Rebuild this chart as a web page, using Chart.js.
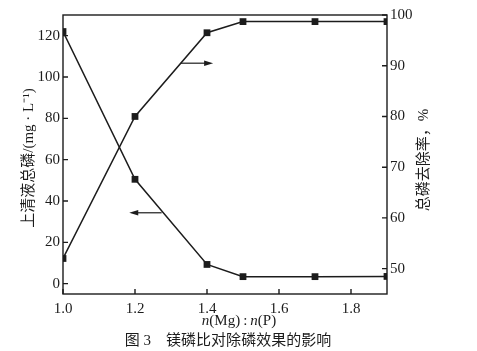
<!DOCTYPE html>
<html>
<head>
<meta charset="utf-8">
<script src="https://cdn.jsdelivr.net/npm/chart.js@4.4.1/dist/chart.umd.min.js"></script>
<style>
html,body{margin:0;padding:0;background:#fff;}
#wrap{width:477px;height:351px;position:relative;}
</style>
</head>
<body>
<div id="wrap"><canvas id="c" width="477" height="351"></canvas></div>
<script>
// ---- data ----
const ratios = [1.0, 1.2, 1.4, 1.5, 1.7, 1.9];
const supernatantTP = [122, 50.5, 9.3, 3.4, 3.4, 3.5];      // mg/L, left axis
const removalRate = [52.0, 80.0, 96.5, 98.7, 98.7, 98.7];    // %, right axis
const xTicks = [1.0, 1.2, 1.4, 1.6, 1.8];
const leftTicks = [0, 20, 40, 60, 80, 100, 120];
const rightTicks = [50, 60, 70, 80, 90, 100];
const xTitleParts = [["n", true], ["(Mg)\u2009:\u2009", false], ["n", true], ["(P)", false]];
const leftTitle = "上清液总磷/(mg · L⁻¹)";
const rightTitle = "总磷去除率，%";
const caption = "图 3　镁磷比对除磷效果的影响";
// arrows in data units: [xFrom, xTo, yValue, axisId]
const arrowRight = [1.327, 1.417, 90.5, 'y1'];
const arrowLeft = [1.274, 1.184, 34.3, 'y'];

const INK = '#1c1c1c';
const SERIF = '"Liberation Serif", "Times New Roman", serif';
const CJK = '"Liberation Serif", "Noto Sans CJK SC", serif';

const decor = {
  id: 'decor',
  afterDraw(chart) {
    const ctx = chart.ctx, a = chart.chartArea;
    const sx = chart.scales.x, sy = chart.scales.y, sy1 = chart.scales.y1;
    ctx.save();
    ctx.strokeStyle = INK; ctx.fillStyle = INK; ctx.lineWidth = 1.4;
    ctx.strokeRect(a.left, a.top, a.right - a.left, a.bottom - a.top);
    const tl = 5;
    ctx.beginPath();
    xTicks.forEach(v => { const p = sx.getPixelForValue(v); ctx.moveTo(p, a.bottom); ctx.lineTo(p, a.bottom - tl); });
    leftTicks.forEach(v => { const p = sy.getPixelForValue(v); ctx.moveTo(a.left, p); ctx.lineTo(a.left + tl, p); });
    rightTicks.forEach(v => { const p = sy1.getPixelForValue(v); ctx.moveTo(a.right, p); ctx.lineTo(a.right - tl, p); });
    ctx.stroke();
    // arrows
    [arrowRight, arrowLeft].forEach(ar => {
      const x0 = sx.getPixelForValue(ar[0]), x1 = sx.getPixelForValue(ar[1]);
      const yy = chart.scales[ar[3]].getPixelForValue(ar[2]);
      const dir = Math.sign(x1 - x0);
      ctx.lineWidth = 1.2;
      ctx.beginPath(); ctx.moveTo(x0, yy); ctx.lineTo(x1 - dir * 6, yy); ctx.stroke();
      ctx.beginPath(); ctx.moveTo(x1, yy); ctx.lineTo(x1 - dir * 9, yy - 2.8); ctx.lineTo(x1 - dir * 9, yy + 2.8); ctx.closePath(); ctx.fill();
    });
    // x title
    ctx.textBaseline = 'middle';
    let total = 0;
    xTitleParts.forEach(p => { ctx.font = (p[1] ? 'italic ' : '') + '15px ' + SERIF; total += ctx.measureText(p[0]).width; });
    let xp = 239 - total / 2;
    ctx.textAlign = 'left';
    xTitleParts.forEach(p => { ctx.font = (p[1] ? 'italic ' : '') + '15px ' + SERIF; ctx.fillText(p[0], xp, 321); xp += ctx.measureText(p[0]).width; });
    // caption
    ctx.font = '15px ' + CJK; ctx.textAlign = 'center';
    ctx.fillText(caption, 228, 341);
    // left title
    ctx.save(); ctx.translate(29, 158); ctx.rotate(-Math.PI / 2);
    ctx.font = '15px ' + CJK; ctx.fillText(leftTitle, 0, 0); ctx.restore();
    // right title
    ctx.save(); ctx.translate(424, 160); ctx.rotate(-Math.PI / 2);
    ctx.font = '15px ' + CJK; ctx.fillText(rightTitle, 0, 0); ctx.restore();
    ctx.restore();
  }
};

const mk = (ys) => ratios.map((x, i) => ({ x: x, y: ys[i] }));
const tickFont = { family: SERIF, size: 15 };

new Chart(document.getElementById('c'), {
  type: 'line',
  data: {
    datasets: [
      { label: '上清液总磷', data: mk(supernatantTP), yAxisID: 'y', borderColor: INK, backgroundColor: INK,
        borderWidth: 1.5, pointStyle: 'rect', pointRadius: 4.8, pointBorderWidth: 0, tension: 0 },
      { label: '总磷去除率', data: mk(removalRate), yAxisID: 'y1', borderColor: INK, backgroundColor: INK,
        borderWidth: 1.5, pointStyle: 'rect', pointRadius: 4.8, pointBorderWidth: 0, tension: 0 }
    ]
  },
  options: {
    responsive: false, animation: false, devicePixelRatio: 1,
    layout: { padding: { top: 15, left: 0, right: 0, bottom: 0 } },
    plugins: { legend: { display: false }, tooltip: { enabled: false } },
    scales: {
      x: { type: 'linear', min: 1.0, max: 1.9,
        grid: { display: false, drawTicks: false }, border: { display: false },
        afterBuildTicks: s => { s.ticks = xTicks.map(v => ({ value: v })); },
        afterFit: s => { s.height = 57; },
        ticks: { font: tickFont, color: INK, padding: 6, maxRotation: 0, autoSkip: false, callback: v => Number(v).toFixed(1) } },
      y: { type: 'linear', position: 'left', min: -5, max: 130,
        grid: { display: false, drawTicks: false }, border: { display: false },
        afterBuildTicks: s => { s.ticks = leftTicks.map(v => ({ value: v })); },
        afterFit: s => { s.width = 63; },
        ticks: { font: tickFont, color: INK, padding: 3, autoSkip: false } },
      y1: { type: 'linear', position: 'right', min: 45, max: 100,
        grid: { display: false, drawTicks: false }, border: { display: false },
        afterBuildTicks: s => { s.ticks = rightTicks.map(v => ({ value: v })); },
        afterFit: s => { s.width = 90; },
        ticks: { font: tickFont, color: INK, padding: 3, autoSkip: false } }
    }
  },
  plugins: [decor]
});
</script>
</body>
</html>
